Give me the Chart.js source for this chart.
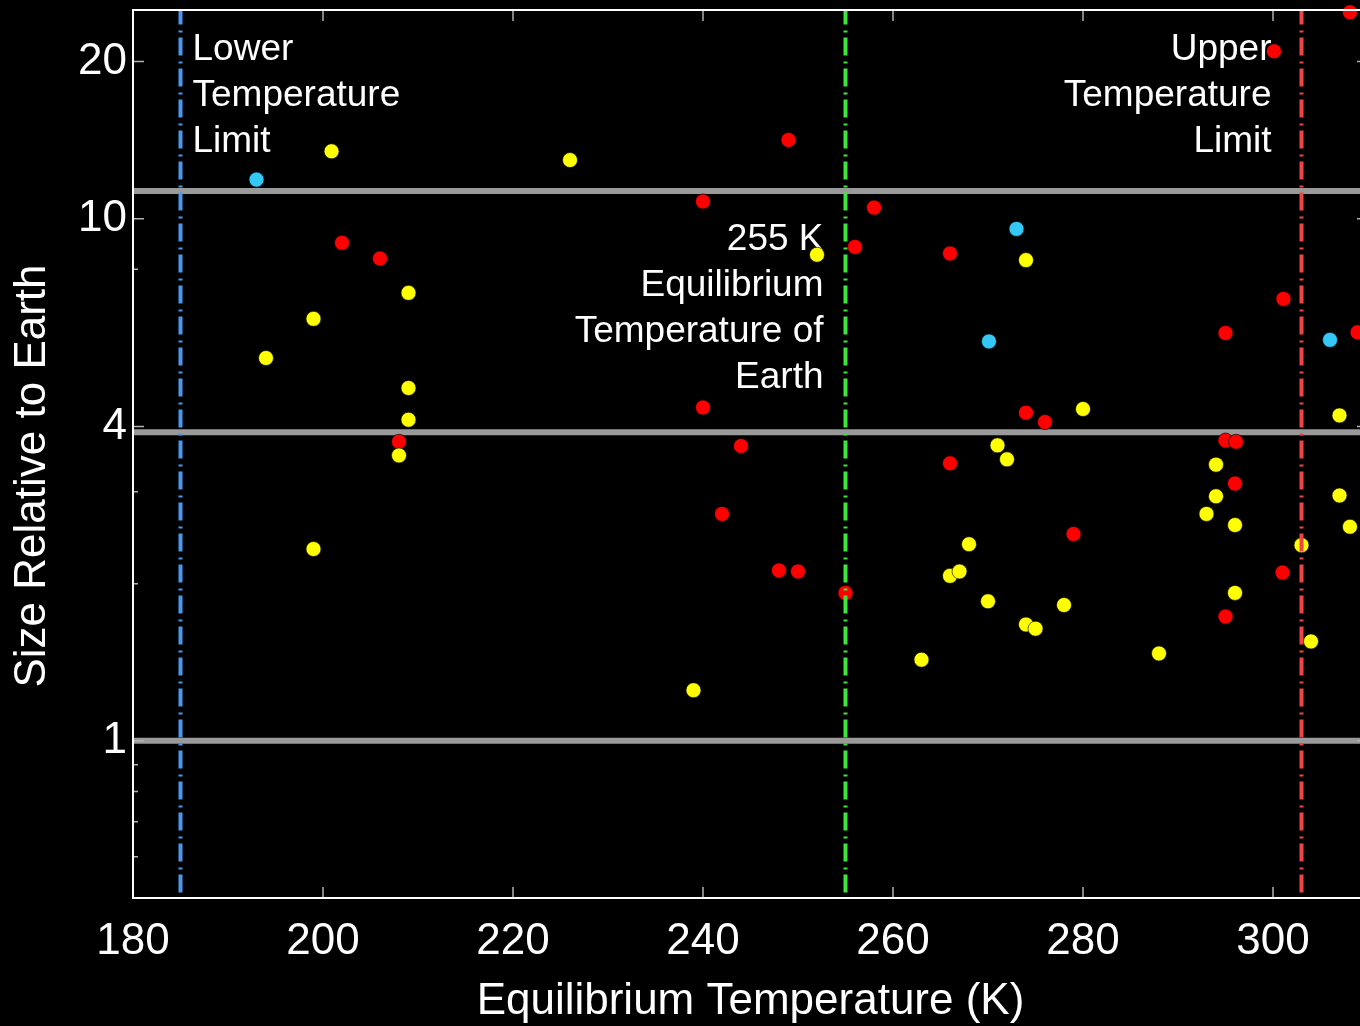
<!DOCTYPE html>
<html>
<head>
<meta charset="utf-8">
<script src="https://cdn.jsdelivr.net/npm/chart.js@4.4.1/dist/chart.umd.min.js"></script>
<style>
  html, body { margin: 0; padding: 0; background: #000; overflow: hidden; }
  #wrap { position: relative; width: 1380px; height: 1026px; }
</style>
</head>
<body>
<div id="wrap"><canvas id="c" width="1380" height="1026"></canvas></div>
<script>
// equilibrium temperature (K) / size relative to Earth, per colour group
const redTemp = [202, 206, 208, 249, 240, 258, 256, 240, 244, 242, 248, 250, 255, 308.1, 300.1, 266, 301.1, 295, 308.9, 274, 276, 295, 296.1, 266, 296, 279, 301, 295];
const redSize = [8.99, 8.39, 3.74, 14.15, 10.79, 10.5, 8.83, 4.35, 3.67, 2.72, 2.12, 2.11, 1.92, 24.85, 20.92, 8.58, 7.02, 6.04, 6.06, 4.25, 4.08, 3.76, 3.74, 3.40, 3.11, 2.49, 2.10, 1.73];

const yellowTemp = [200.9, 209, 199, 194, 209, 209, 208, 199, 226, 252, 239, 274, 280, 271, 272, 294, 294, 293, 296, 307, 307, 308.1, 268, 303, 266, 267, 270, 278, 296, 274, 275, 304, 288, 263];
const yellowSize = [13.46, 7.21, 6.43, 5.41, 4.74, 4.12, 3.52, 2.33, 12.95, 8.53, 1.25, 8.33, 4.32, 3.68, 3.46, 3.38, 2.94, 2.72, 2.59, 4.20, 2.95, 2.57, 2.38, 2.37, 2.07, 2.11, 1.85, 1.82, 1.92, 1.67, 1.64, 1.55, 1.47, 1.43];

const blueTemp = [193, 273, 270.1, 306];
const blueSize = [11.88, 9.56, 5.82, 5.86];

const xTicks = [180, 200, 220, 240, 260, 280, 300];
const yTicks = [20, 10, 8, 4, 3, 2, 1, 0.9, 0.8, 0.7, 0.6];
const yLabels = [20, 10, 4, 1];

const sizeLines = [11.3, 3.9, 1];     // grey horizontal bands
const lowerLimit = 185;
const earthTemp = 255;
const upperLimit = 303;

const lowerText = ['Lower', 'Temperature', 'Limit'];
const upperText = ['Upper', 'Temperature', 'Limit'];
const earthText = ['255 K', 'Equilibrium', 'Temperature of', 'Earth'];

const FONT = '"Liberation Sans", Arial, Helvetica, sans-serif';

const toPoints = (xs, ys) => xs.map((t, i) => ({ x: t, y: ys[i] }));

const decor = {
  id: 'decor',
  beforeDatasetsDraw(chart) {
    const { ctx, chartArea: a, scales: { x, y } } = chart;
    ctx.save();
    ctx.strokeStyle = '#9a9a9a';
    ctx.lineWidth = 6;
    sizeLines.forEach(v => {
      const py = y.getPixelForValue(v);
      ctx.beginPath();
      ctx.moveTo(a.left, py);
      ctx.lineTo(a.right, py);
      ctx.stroke();
    });

    ctx.fillStyle = '#fff';
    ctx.font = '37px ' + FONT;
    ctx.textBaseline = 'alphabetic';
    ctx.textAlign = 'left';
    lowerText.forEach((s, i) => ctx.fillText(s, x.getPixelForValue(lowerLimit) + 12, a.top + 50 + i * 46));
    ctx.textAlign = 'right';
    upperText.forEach((s, i) => ctx.fillText(s, x.getPixelForValue(upperLimit) - 30, a.top + 50 + i * 46));
    earthText.forEach((s, i) => ctx.fillText(s, x.getPixelForValue(earthTemp) - 22, a.top + 240 + i * 46));
    ctx.restore();
  },
  afterDatasetsDraw(chart) {
    const { ctx, chartArea: a, scales: { x, y } } = chart;
    ctx.save();

    // dash-dot limit lines
    ctx.lineWidth = 4;
    ctx.setLineDash([18, 6, 2, 5]);
    ctx.lineDashOffset = 3.6;
    [[lowerLimit, '#4a98ee'], [earthTemp, '#3fe53f'], [upperLimit, '#ee4646']].forEach(([v, c]) => {
      const px = x.getPixelForValue(v);
      ctx.strokeStyle = c;
      ctx.beginPath();
      ctx.moveTo(px, a.top);
      ctx.lineTo(px, a.bottom);
      ctx.stroke();
    });
    ctx.setLineDash([]);

    // inward tick marks
    ctx.strokeStyle = '#b0b0b0';
    ctx.lineWidth = 1.5;
    xTicks.forEach(v => {
      const px = x.getPixelForValue(v);
      ctx.beginPath();
      ctx.moveTo(px, a.bottom); ctx.lineTo(px, a.bottom - 11);
      ctx.moveTo(px, a.top); ctx.lineTo(px, a.top + 11);
      ctx.stroke();
    });
    yTicks.forEach(v => {
      const py = y.getPixelForValue(v);
      const len = yLabels.includes(v) ? 11 : 5;
      ctx.beginPath();
      ctx.moveTo(a.left, py); ctx.lineTo(a.left + len, py);
      ctx.moveTo(a.right, py); ctx.lineTo(a.right - len, py);
      ctx.stroke();
    });

    // frame
    ctx.strokeStyle = '#fff';
    ctx.lineWidth = 2;
    ctx.strokeRect(a.left, a.top, a.right - a.left, a.bottom - a.top);

    // y title
    ctx.fillStyle = '#fff';
    ctx.font = '44px ' + FONT;
    ctx.textAlign = 'center';
    ctx.textBaseline = 'middle';
    ctx.translate(33, (a.top + a.bottom) / 2 + 22);
    ctx.rotate(-Math.PI / 2);
    ctx.fillText('Size Relative to Earth', 0, 0);
    ctx.restore();
  }
};

const marker = (color, data) => ({
  data: data,
  backgroundColor: color,
  borderColor: 'rgba(0,0,0,0.6)',
  borderWidth: 1,
  pointRadius: 7.5,
  pointHoverRadius: 7.5,
  clip: false
});

new Chart(document.getElementById('c'), {
  type: 'scatter',
  data: {
    datasets: [
      marker('#ffff00', toPoints(yellowTemp, yellowSize)),
      marker('#33c8f5', toPoints(blueTemp, blueSize)),
      marker('#ff0000', toPoints(redTemp, redSize))
    ]
  },
  options: {
    responsive: false,
    animation: false,
    events: [],
    layout: { padding: { top: 10, right: 12, left: 0, bottom: 0 } },
    plugins: { legend: { display: false }, tooltip: { enabled: false } },
    scales: {
      x: {
        type: 'linear',
        min: 180,
        max: 310,
        afterBuildTicks: s => { s.ticks = xTicks.map(v => ({ value: v })); },
        afterFit: s => { s.height = 128; s.paddingLeft = 0; s.paddingRight = 0; },
        grid: { display: false },
        border: { display: false },
        ticks: { color: '#fff', font: { family: FONT, size: 44 }, padding: 9, maxRotation: 0, autoSkip: false },
        title: {
          display: true,
          text: 'Equilibrium Temperature (K)',
          color: '#fff',
          font: { family: FONT, size: 44, lineHeight: 1 },
          padding: { top: 0, bottom: 2 }
        }
      },
      y: {
        type: 'logarithmic',
        min: 0.5,
        max: 25.1,
        afterBuildTicks: s => { s.ticks = yTicks.map(v => ({ value: v })); },
        afterFit: s => { s.width = 133; s.paddingTop = 0; s.paddingBottom = 0; },
        grid: { display: false },
        border: { display: false },
        ticks: {
          color: '#fff',
          font: { family: FONT, size: 44 },
          padding: -2,
          autoSkip: false,
          callback: v => yLabels.includes(v) ? String(v) : ''
        }
      }
    }
  },
  plugins: [decor]
});
</script>
</body>
</html>
